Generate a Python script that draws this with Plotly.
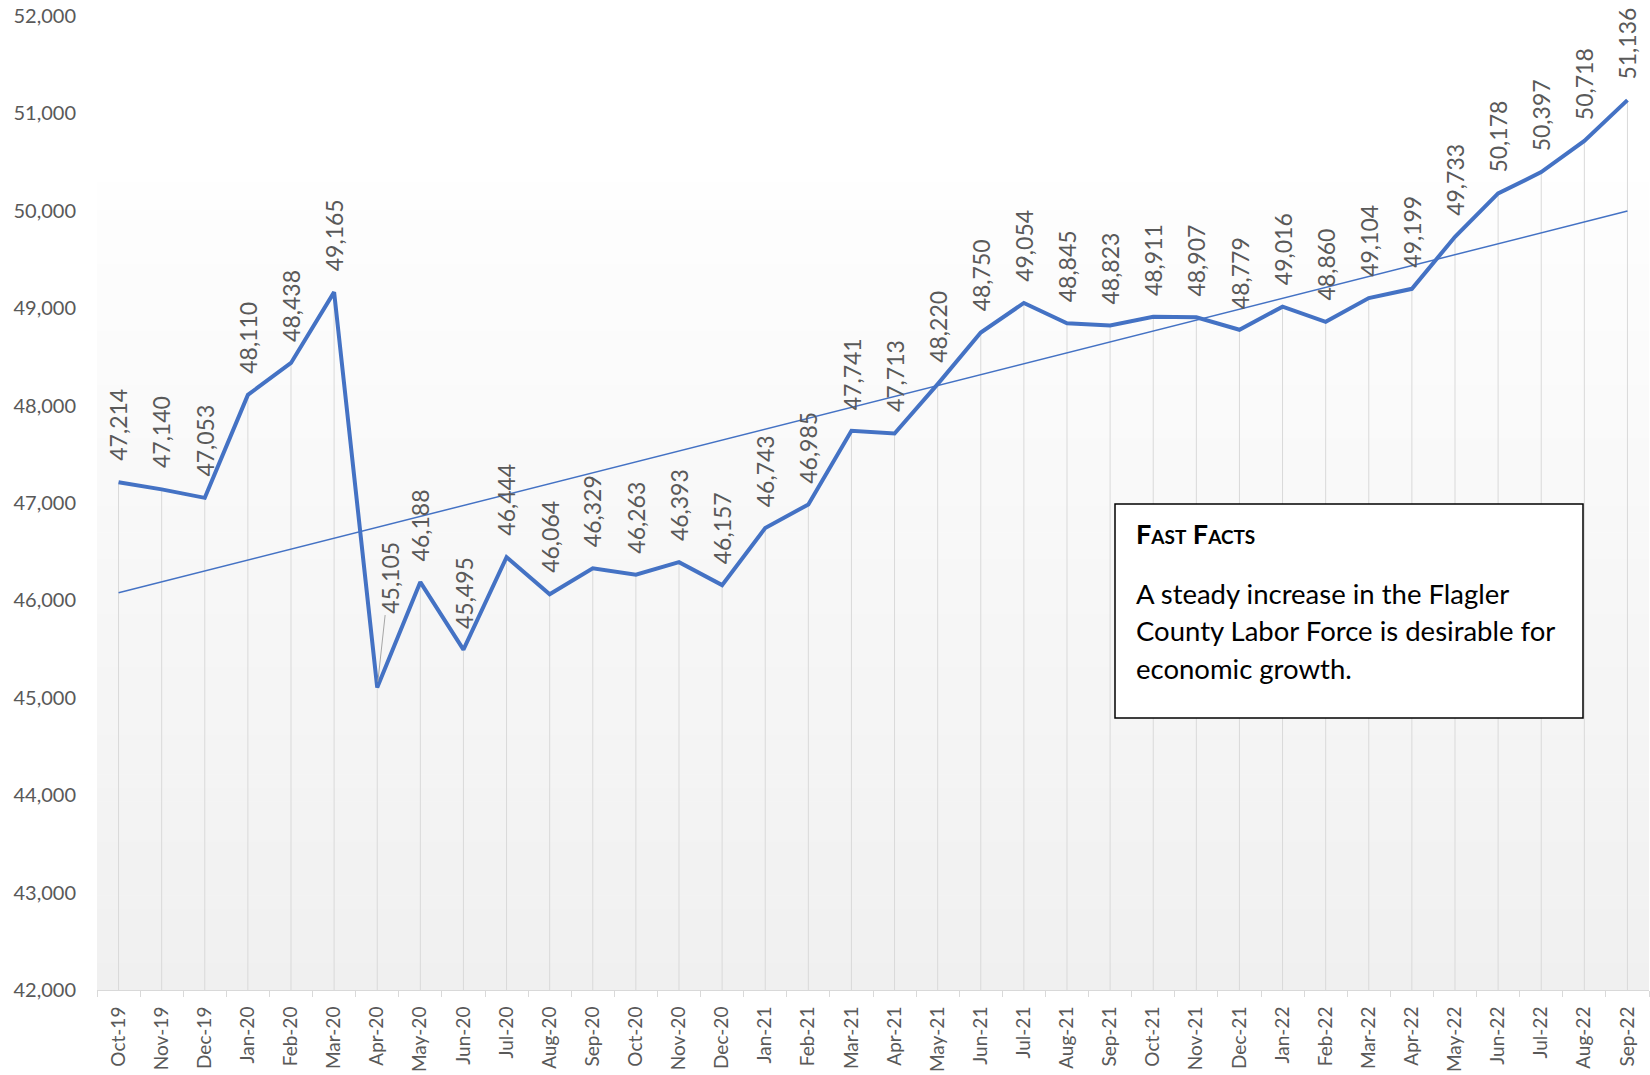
import numpy as np
import plotly.graph_objects as go

months = ["Oct-19", "Nov-19", "Dec-19", "Jan-20", "Feb-20", "Mar-20", "Apr-20", "May-20", "Jun-20",
          "Jul-20", "Aug-20", "Sep-20", "Oct-20", "Nov-20", "Dec-20", "Jan-21", "Feb-21", "Mar-21",
          "Apr-21", "May-21", "Jun-21", "Jul-21", "Aug-21", "Sep-21", "Oct-21", "Nov-21", "Dec-21",
          "Jan-22", "Feb-22", "Mar-22", "Apr-22", "May-22", "Jun-22", "Jul-22", "Aug-22", "Sep-22"]
labor_force = [47214, 47140, 47053, 48110, 48438, 49165, 45105, 46188, 45495,
               46444, 46064, 46329, 46263, 46393, 46157, 46743, 46985, 47741,
               47713, 48220, 48750, 49054, 48845, 48823, 48911, 48907, 48779,
               49016, 48860, 49104, 49199, 49733, 50178, 50397, 50718, 51136]
y_ticks = [42000, 43000, 44000, 45000, 46000, 47000, 48000, 49000, 50000, 51000, 52000]
box_title = "Fast Facts"
box_lines = ["A steady increase in the Flagler",
             "County Labor Force is desirable for",
             "economic growth."]

W, H = 1650, 1075
ML, MR, MT, MB = 97, 1, 16, 85
PW, PH = W - ML - MR, H - MT - MB
BLUE = "#4472C4"
GRAY_TXT = "#595959"
FONT = "Lato, Carlito, Calibri, sans-serif"

x = list(range(len(months)))
y_min, y_max = y_ticks[0], y_ticks[-1]

# linear trend (as Excel's linear trendline)
slope, intercept = np.polyfit(x, labor_force, 1)
trend_x = [x[0], x[-1]]
trend_y = [intercept + slope * xi for xi in trend_x]

def px_to_paper_x(px):
    return (px - ML) / PW

def px_to_paper_y(py):
    return (H - MB - py) / PH

fig = go.Figure()

# drop lines
fig.add_trace(go.Scatter(
    x=x, y=labor_force, mode="markers", marker=dict(size=0.1, color="rgba(0,0,0,0)"),
    error_y=dict(type="data", symmetric=False, array=[0] * len(x),
                 arrayminus=[v - y_min for v in labor_force],
                 width=0, thickness=1, color="#D9D9D9"),
    hoverinfo="skip", showlegend=False))

# trendline
fig.add_trace(go.Scatter(x=trend_x, y=trend_y, mode="lines",
                         line=dict(color=BLUE, width=1.5), showlegend=False, hoverinfo="skip"))

# main series
fig.add_trace(go.Scatter(x=x, y=labor_force, mode="lines",
                         line=dict(color=BLUE, width=4), showlegend=False))

# background gradient of plot area
shapes = []
g_top = px_to_paper_y(183)
N = 60
for k in range(N):
    y0 = g_top * k / N
    y1 = g_top * (k + 1) / N
    t = (k + 0.5) / N  # 0 bottom -> 1 top
    c = int(round(240 + (254 - 240) * t))
    shapes.append(dict(type="rect", xref="paper", yref="paper", x0=0, x1=1, y0=y0, y1=y1 + 0.0005,
                       fillcolor=f"rgb({c},{c},{c})", line=dict(width=0), layer="below"))

# text box
shapes.append(dict(type="rect", xref="paper", yref="paper",
                   x0=px_to_paper_x(1115), x1=px_to_paper_x(1583),
                   y0=px_to_paper_y(718), y1=px_to_paper_y(504),
                   fillcolor="white", line=dict(color="black", width=1.5), layer="above"))

annotations = []
for i, v in enumerate(labor_force):
    label = f"{v:,}"
    if months[i] == "Apr-20":
        annotations.append(dict(x=i, y=v, xref="x", yref="y", text=label, textangle=-90,
                                showarrow=True, arrowhead=0, arrowwidth=1, arrowcolor="#A6A6A6",
                                ax=12, ay=-110, standoff=6,
                                font=dict(family=FONT, size=23, color=GRAY_TXT)))
    else:
        annotations.append(dict(x=i, y=v, xref="x", yref="y", text=label, textangle=-90,
                                showarrow=False, xanchor="center", yanchor="bottom", yshift=19,
                                font=dict(family=FONT, size=23, color=GRAY_TXT)))

annotations.append(dict(x=px_to_paper_x(1134), y=px_to_paper_y(533), xref="paper", yref="paper",
                        text="<b>" + box_title + "</b>", showarrow=False, xanchor="left", yanchor="middle",
                        font=dict(family=FONT, size=27, color="black", variant="small-caps")))
for j, line in enumerate(box_lines):
    annotations.append(dict(x=px_to_paper_x(1134), y=px_to_paper_y(593 + 37.5 * j), xref="paper",
                            yref="paper", text=line, showarrow=False, xanchor="left", yanchor="middle",
                            font=dict(family=FONT, size=27.5, color="black")))

fig.update_layout(
    width=W, height=H, margin=dict(l=ML, r=MR, t=MT, b=MB, pad=0, autoexpand=False),
    paper_bgcolor="white", plot_bgcolor="rgba(0,0,0,0)",
    shapes=shapes, annotations=annotations, showlegend=False,
    xaxis=dict(range=[-0.5, len(x) - 0.5], tickmode="array", tickvals=x, ticktext=months,
               tickangle=-90, showgrid=False, zeroline=False, showline=True, linecolor="#D9D9D9",
               linewidth=1, ticks="", ticklabelstandoff=8, automargin=False,
               ticklabeloverflow="allow",
               tickfont=dict(family=FONT, size=19, color=GRAY_TXT),
               minor=dict(tickmode="linear", tick0=-0.5, dtick=1, ticks="outside", ticklen=6,
                          tickcolor="#D9D9D9", tickwidth=1, showgrid=False)),
    yaxis=dict(range=[y_min, y_max + 0.01], tickmode="array", tickvals=y_ticks,
               ticktext=[f"{t:,}" for t in y_ticks], showgrid=False, zeroline=False,
               showline=False, ticks="", ticklabelstandoff=20, automargin=False,
               ticklabeloverflow="allow",
               tickfont=dict(family=FONT, size=20, color=GRAY_TXT)),
)

# remove the default page margin so the figure fills the window exactly
fig.write_html("out.html", config={"displayModeBar": False},
               post_script="document.body.style.margin='0';")
